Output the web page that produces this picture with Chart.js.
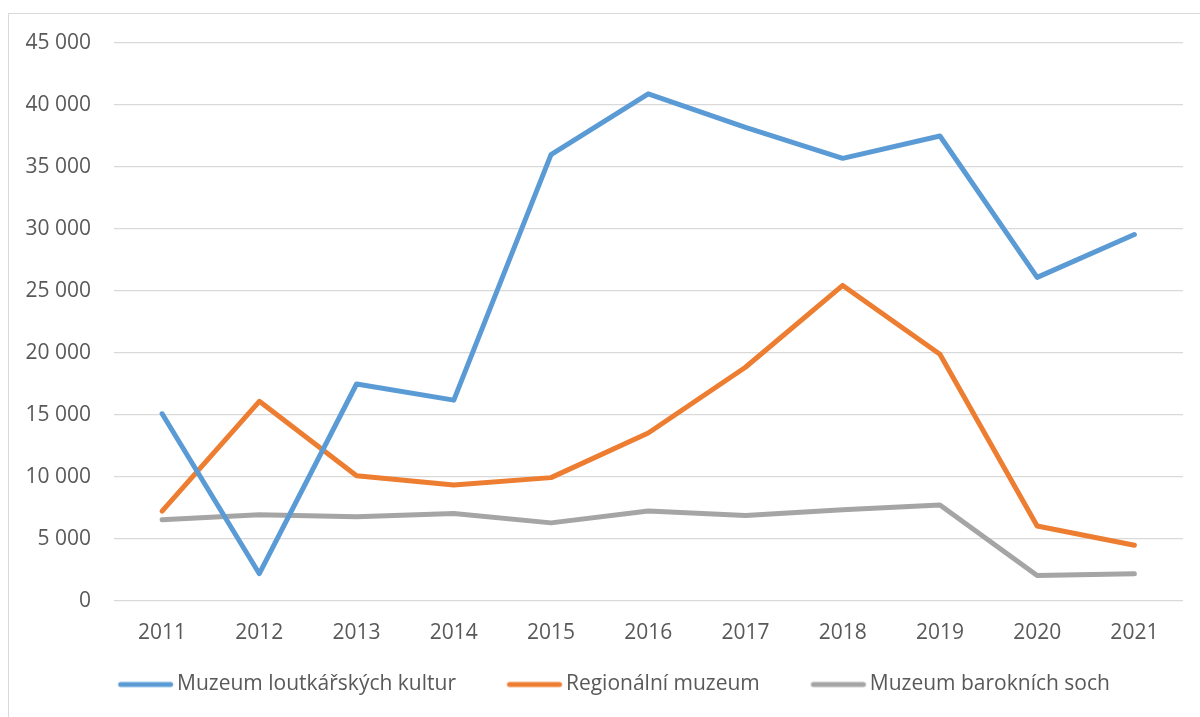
<!DOCTYPE html>
<html>
<head>
<meta charset="utf-8">
<script src="https://cdn.jsdelivr.net/npm/chart.js@4/dist/chart.umd.min.js"></script>
<style>
  html, body { margin: 0; padding: 0; background: #fff; overflow: hidden; }
  #frame { position: absolute; left: 8px; top: 13px; width: 1300px; height: 800px;
           border-left: 1.5px solid #d9d9d9; border-top: 1.5px solid #d9d9d9; }
  #visitors { position: absolute; left: 0; top: 0; }
</style>
</head>
<body>
<div id="frame"></div>
<canvas id="visitors" width="1200" height="717"></canvas>
<script>
  // years + visitors per museum
  const years = ['2011', '2012', '2013', '2014', '2015', '2016', '2017', '2018', '2019', '2020', '2021']
  const loutkar = [15100, 2200, 17500, 16200, 36000, 40900, 38200, 35700, 37500, 26100, 29550]
  const regional = [7250, 16100, 10100, 9350, 9950, 13550, 18850, 25450, 19900, 6050, 4500]
  const barok = [6550, 6950, 6800, 7050, 6300, 7250, 6900, 7350, 7750, 2050, 2200]
  const yTicks = [0, 5000, 10000, 15000, 20000, 25000, 30000, 35000, 40000, 45000]

  const names = ['Muzeum loutkářských kultur', 'Regionální muzeum', 'Muzeum barokních soch']
  const colors = ['#5B9BD5', '#ED7D31', '#A5A5A5']

  function spaced(v) {
    return String(v).replace(/\B(?=(\d{3})+(?!\d))/g, ' ')
  }

  // legend marker: short thick line, sitting in the right part of the box
  function marker(color) {
    let c = document.createElement('canvas')
    c.width = 86
    c.height = 8
    let g = c.getContext('2d')
    g.strokeStyle = color
    g.lineWidth = 5
    g.lineCap = 'round'
    g.beginPath()
    g.moveTo(32.75, 4)
    g.lineTo(82.75, 4)
    g.stroke()
    return c
  }

  function line(label, data, color) {
    return {
      label: label,
      data: data,
      borderColor: color,
      backgroundColor: color,
      borderWidth: 5,
      borderCapStyle: 'round',
      borderJoinStyle: 'round',
      pointRadius: 0,
      pointHoverRadius: 0,
      tension: 0,
      fill: false
    }
  }

  Chart.defaults.font.family = '"Open Sans", "Noto Sans", sans-serif'
  Chart.defaults.font.size = 21
  Chart.defaults.color = '#595959'

  let ctx = document.getElementById('visitors').getContext('2d')

  let lineChart = new Chart(ctx, {
    type: 'line',
    data: {
      labels: years,
      datasets: [
        line(names[0], loutkar, colors[0]),
        line(names[1], regional, colors[1]),
        line(names[2], barok, colors[2])
      ]
    },
    options: {
      responsive: false,
      animation: false,
      devicePixelRatio: 1,
      layout: { padding: { left: 22, right: 17, top: 43, bottom: 12 } },
      scales: {
        x: {
          offset: true,
          grid: { display: false, drawTicks: false },
          border: { display: false },
          ticks: { padding: 19.7, maxRotation: 0, autoSkip: false, color: '#595959' },
          afterFit: (scale) => { scale.height = 45 }
        },
        y: {
          min: 0,
          max: 45000,
          afterBuildTicks: (scale) => { scale.ticks = yTicks.map(v => ({ value: v })) },
          grid: { color: '#d9d9d9', lineWidth: 1.3, drawTicks: false },
          border: { display: false },
          ticks: { padding: 22.5, color: '#595959', callback: (v) => spaced(v) },
          afterFit: (scale) => { scale.width = 91.5 }
        }
      },
      plugins: {
        tooltip: { enabled: false },
        legend: {
          position: 'bottom',
          labels: {
            usePointStyle: true,
            pointStyleWidth: 71.5,
            padding: 28,
            color: '#595959',
            generateLabels: (chart) => chart.data.datasets.map((ds, i) => ({
              text: ds.label,
              fillStyle: ds.borderColor,
              strokeStyle: ds.borderColor,
              lineWidth: 0,
              pointStyle: marker(ds.borderColor),
              fontColor: '#595959',
              hidden: false,
              datasetIndex: i
            }))
          }
        }
      }
    }
  })
</script>
</body>
</html>
